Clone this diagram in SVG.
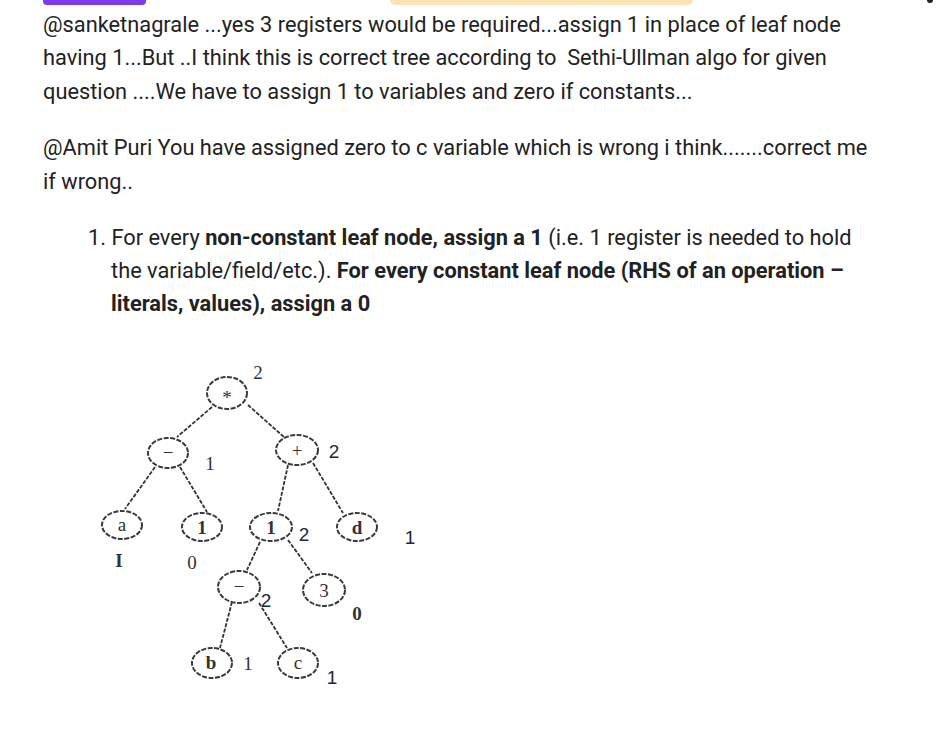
<svg xmlns="http://www.w3.org/2000/svg" width="950" height="729" viewBox="0 0 950 729">
<style>
.t{font-family:Roboto,"Liberation Sans",sans-serif;font-size:21.8px;fill:#222}
.b{font-weight:bold}
.nd{fill:#fff;stroke:#3a3a3a;stroke-width:2;stroke-dasharray:5 1.5}
.ed{stroke:#333;stroke-width:1.8;stroke-dasharray:4 1.5;fill:none}
.nl{font-family:"Liberation Serif",serif;font-size:19px;fill:#333;text-anchor:middle}
.sl{font-family:"Liberation Serif",serif;font-size:19px;fill:#333;text-anchor:middle}
.cl{font-family:"Liberation Sans",sans-serif;font-size:19px;fill:#1f2740;text-anchor:middle}
</style>
<rect width="950" height="729" fill="#fff"/>
<rect x="43" y="-10" width="103" height="15" rx="4" fill="#7c3aed"/>
<rect x="390" y="-10" width="303" height="15" rx="5" fill="#fde2b8"/>
<circle cx="930" cy="0" r="3" fill="#222"/>
<text class="t" x="43" y="32">@sanketnagrale ...yes 3 registers would be required...assign 1 in place of leaf node</text>
<text class="t" x="43" y="65" xml:space="preserve">having 1...But ..I think this is correct tree according to  Sethi-Ullman algo for given</text>
<text class="t" x="43" y="99">question ....We have to assign 1 to variables and zero if constants...</text>
<text class="t" x="43" y="155">@Amit Puri You have assigned zero to c variable which is wrong i think.......correct me</text>
<text class="t" x="43" y="189">if wrong..</text>
<text class="t" x="88" y="245">1. For every <tspan class="b">non-constant leaf node, assign a 1</tspan> (i.e. 1 register is needed to hold</text>
<text class="t" x="111" y="278">the variable/field/etc.). <tspan class="b">For every constant leaf node (RHS of an operation –</tspan></text>
<text class="t b" x="111" y="311">literals, values), assign a 0</text>
<g id="connectors">
<line class="ed" x1="212" y1="407" x2="177" y2="437"/>
<line class="ed" x1="248" y1="405" x2="285" y2="438"/>
<line class="ed" x1="155" y1="467" x2="125" y2="509"/>
<line class="ed" x1="180" y1="467" x2="207" y2="512"/>
<line class="ed" x1="288" y1="465" x2="278" y2="511"/>
<line class="ed" x1="313" y1="463" x2="343" y2="513"/>
<line class="ed" x1="260" y1="542" x2="247" y2="570"/>
<line class="ed" x1="288" y1="540" x2="312" y2="573"/>
<line class="ed" x1="232" y1="602" x2="220" y2="648"/>
<line class="ed" x1="259" y1="603" x2="287" y2="648"/>
</g>
<g id="n-mul"><ellipse class="nd" cx="227" cy="393" rx="20" ry="16"/><text class="nl" x="227" y="404" font-size="15" fill="#944">*</text><text class="sl" x="258" y="379" font-size="21">2</text></g>
<g id="n-sub1"><ellipse class="nd" cx="168" cy="453" rx="20" ry="15"/><text class="nl" x="168" y="459">−</text><text class="sl" x="210" y="470" font-size="21">1</text></g>
<g id="n-add"><ellipse class="nd" cx="297" cy="450" rx="21" ry="15"/><text class="nl" x="297" y="457">+</text><text class="cl" x="334" y="458">2</text></g>
<g id="n-a"><ellipse class="nd" cx="122" cy="525" rx="20" ry="14"/><text class="nl" x="122" y="531" fill="#555">a</text><text class="sl" x="119" y="567" fill="#3a2020" font-weight="bold">I</text></g>
<g id="n-1a"><ellipse class="nd" cx="202" cy="527" rx="20" ry="14"/><text class="nl" x="202" y="534" font-weight="bold">1</text><text class="sl" x="192" y="569">0</text></g>
<g id="n-1b"><ellipse class="nd" cx="271" cy="527" rx="21" ry="14"/><text class="nl" x="271" y="534" font-weight="bold" fill="#3a2020">1</text><text class="cl" x="304" y="541">2</text></g>
<g id="n-d"><ellipse class="nd" cx="357" cy="527" rx="20" ry="14"/><text class="nl" x="357" y="534" font-weight="bold" fill="#3a4050">d</text><text class="cl" x="410" y="544">1</text></g>
<g id="n-sub2"><ellipse class="nd" cx="239" cy="587" rx="21" ry="16"/><text class="nl" x="239" y="593">−</text><text class="cl" x="266" y="607">2</text></g>
<g id="n-3"><ellipse class="nd" cx="324" cy="590" rx="21" ry="16"/><text class="nl" x="324" y="597" fill="#666">3</text><text class="sl" x="357" y="620" font-weight="bold">0</text></g>
<g id="n-b"><ellipse class="nd" cx="212" cy="663" rx="20" ry="15"/><text class="nl" x="211" y="669" fill="#8a96a8" font-weight="bold">b</text><text class="sl" x="248" y="670" fill="#bbb">1</text></g>
<g id="n-c"><ellipse class="nd" cx="298" cy="663" rx="20" ry="15"/><text class="nl" x="298" y="669" fill="#8a96a8">c</text><text class="cl" x="332" y="684">1</text></g>
</svg>
